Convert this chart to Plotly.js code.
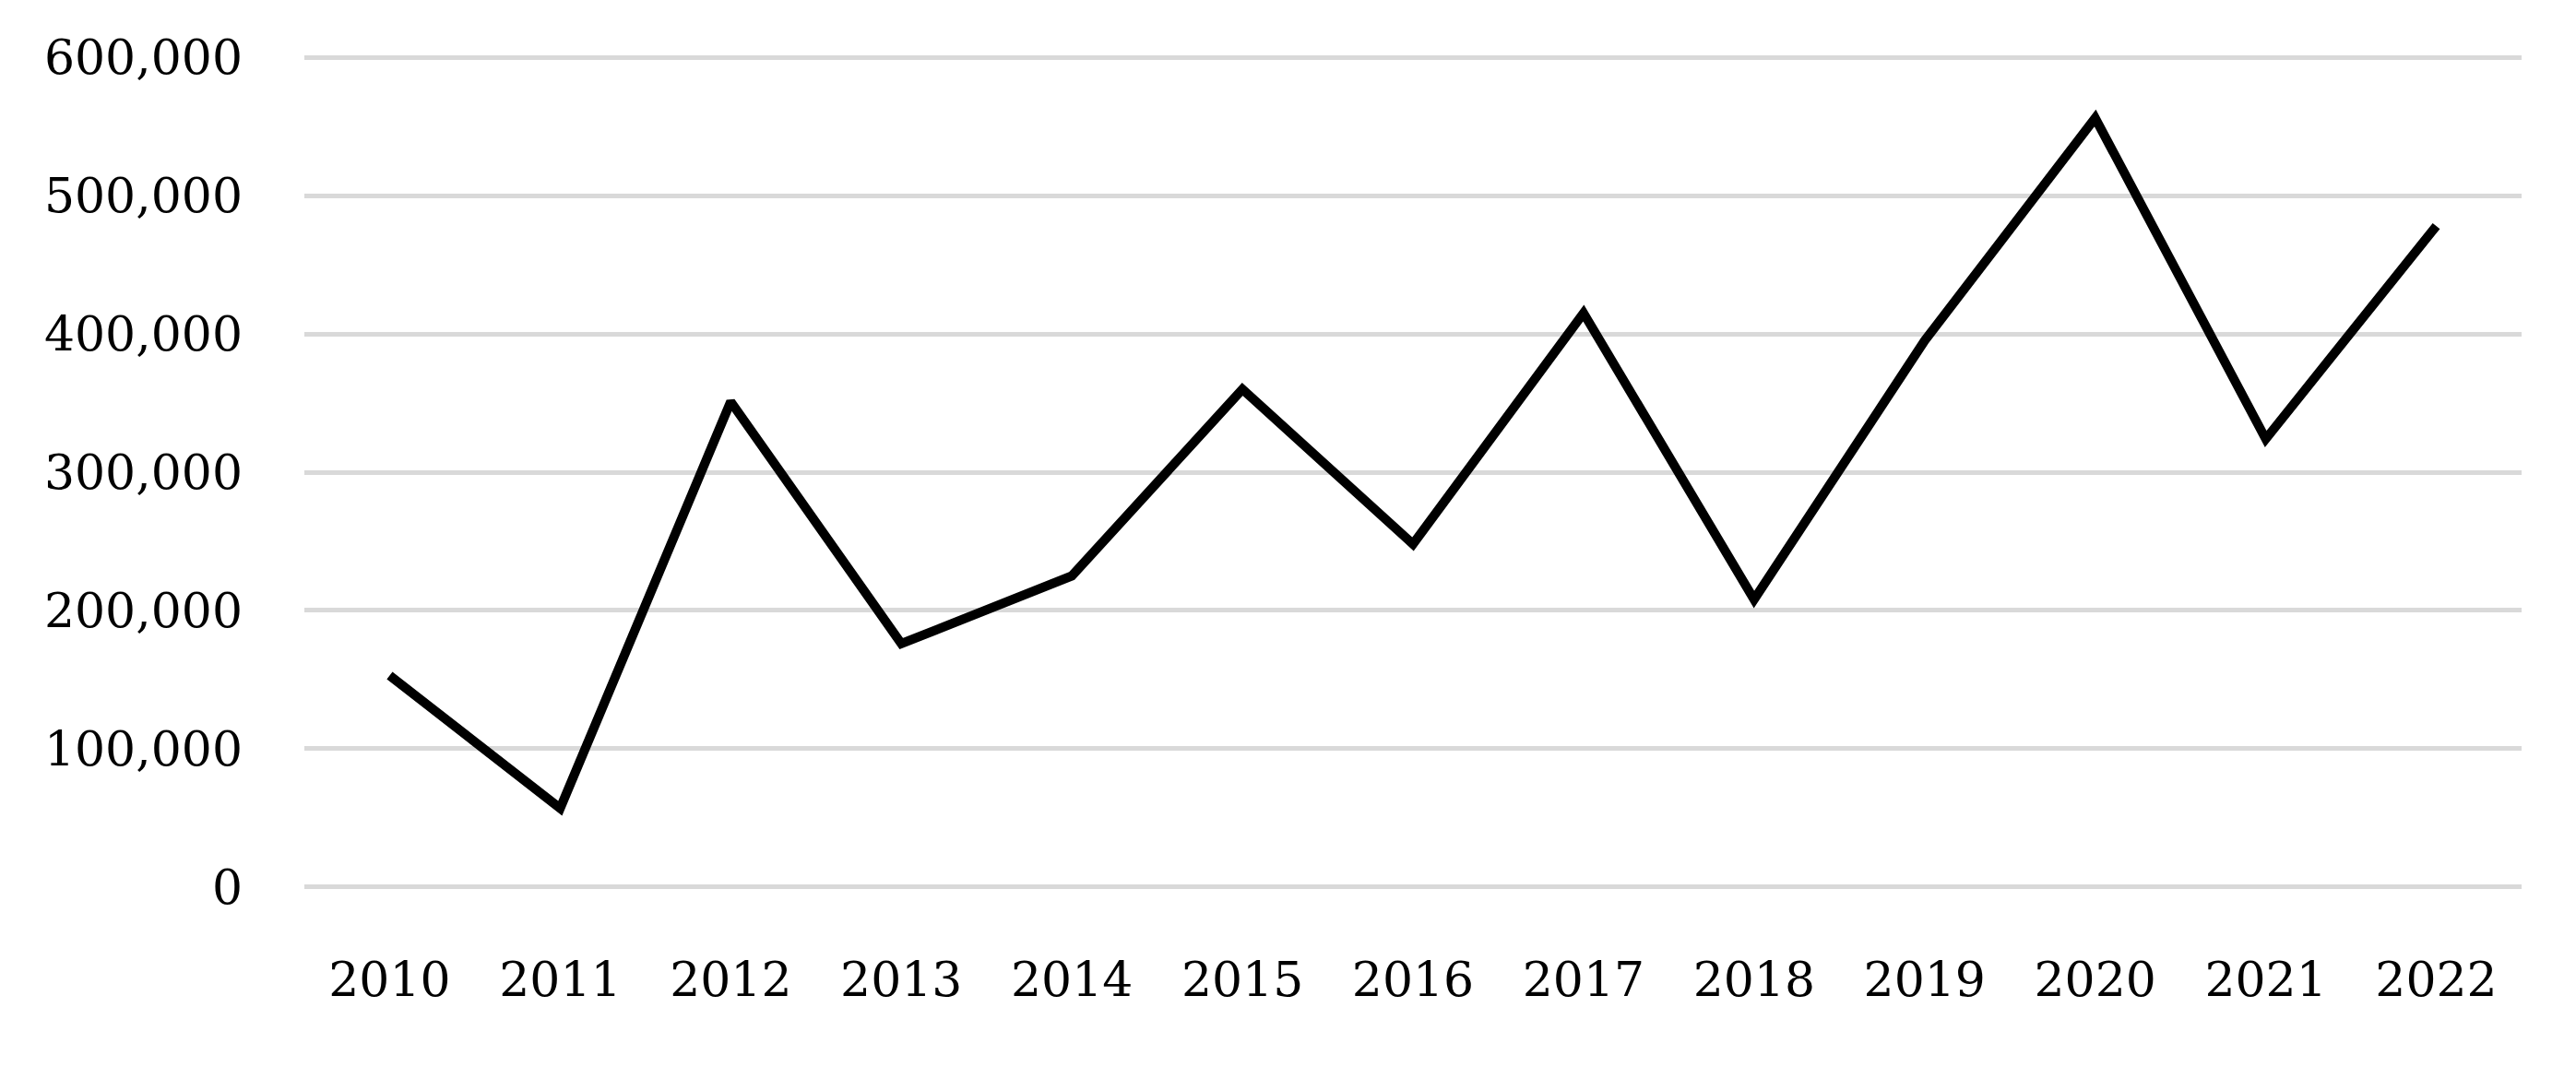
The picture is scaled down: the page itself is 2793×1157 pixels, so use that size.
<!DOCTYPE html>
<html>
<head>
<meta charset="utf-8">
<script src="https://cdn.plot.ly/plotly-3.0.1.min.js"></script>
<style>
  html, body { margin: 0; padding: 0; background: #fff; }
  #myPlot { width: 2793px; height: 1157px; }
</style>
</head>
<body>
<div id="myPlot"></div>
<script>
// Years on the x axis
const years = ["2010", "2011", "2012", "2013", "2014", "2015", "2016",
  "2017", "2018", "2019", "2020", "2021", "2022"];
// Yearly values
const values = [153000, 57000, 351000, 176000, 225000, 360000, 248000,
  415000, 208000, 395000, 556000, 324000, 478000];
// Y tick values
const yTicks = [0, 100000, 200000, 300000, 400000, 500000, 600000];

const trace = {
  x: years,
  y: values,
  mode: "lines",
  type: "scatter",
  line: { color: "#000000", width: 10, shape: "linear" },
  hoverinfo: "skip",
};

const layout = {
  width: 2793,
  height: 1157,
  // padded a bit so the 0 and 600,000 gridlines are drawn
  margin: { l: 330, r: 59, t: 58, b: 191 },
  paper_bgcolor: "#ffffff",
  plot_bgcolor: "#ffffff",
  showlegend: false,
  font: { family: "DejaVu Serif, serif", size: 52, color: "#000000" },
  xaxis: {
    type: "category",
    range: [-0.5, 12.5],
    showgrid: false,
    zeroline: false,
    showline: false,
    ticks: "",
    ticklabelstandoff: 61,
  },
  yaxis: {
    range: [-2700, 602700],
    tickvals: yTicks,
    ticktext: yTicks.map((v) => v.toLocaleString("en-US")),
    showgrid: true,
    gridcolor: "#d9d9d9",
    gridwidth: 5,
    zeroline: false,
    showline: false,
    ticks: "",
    ticklabelstandoff: 66,
  },
};

var config = { responsive: false, staticPlot: true };

Plotly.newPlot("myPlot", [trace], layout, config);
</script>
</body>
</html>
